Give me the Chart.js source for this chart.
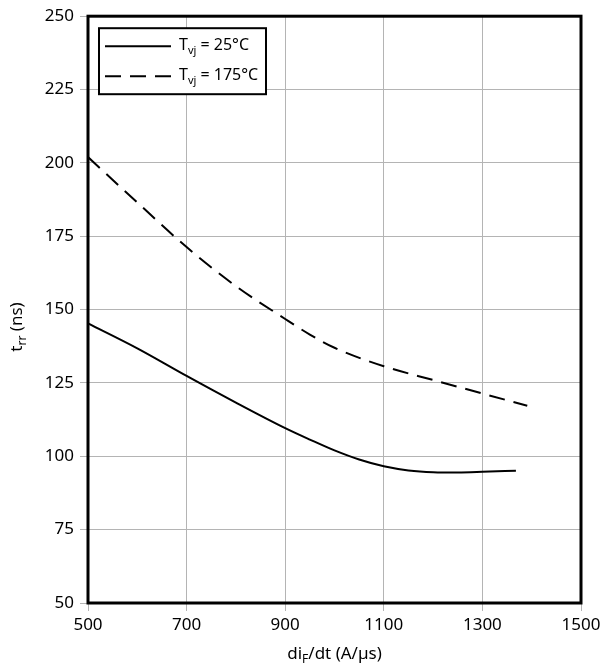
<!DOCTYPE html>
<html>
<head>
<meta charset="utf-8">
<script src="https://cdn.jsdelivr.net/npm/chart.js@4/dist/chart.umd.min.js"></script>
<style>
  html, body { margin: 0; padding: 0; background: #fff; }
  #wrap { width: 606px; height: 668px; }
</style>
</head>
<body>
<div id="wrap"><canvas id="chart" width="606" height="668"></canvas></div>
<script>
// ---- data ----
const xTicks = [500, 700, 900, 1100, 1300, 1500];
const yTicks = [50, 75, 100, 125, 150, 175, 200, 225, 250];

const x25 = [500, 600, 700, 800, 900, 950, 1000, 1050, 1100, 1150, 1200, 1250, 1300, 1368];
const t25 = [145.3, 136.8, 127.4, 118.3, 109.6, 105.7, 102.0, 98.9, 96.6, 95.2, 94.6, 94.5, 94.7, 95.1];

const x175 = [500, 600, 700, 800, 900, 950, 1000, 1100, 1200, 1300, 1391];
const t175 = [202.0, 186.5, 171.3, 158.0, 146.8, 141.5, 137.0, 130.7, 126.0, 121.4, 117.2];

const FONT = "'Noto Sans', 'Open Sans', sans-serif";

const pts = (xs, ys) => xs.map((x, i) => ({ x: x, y: ys[i] }));

// frame around plot area
const framePlugin = {
    id: "frame",
    afterDatasetsDraw(chart) {
        const a = chart.chartArea;
        const ctx = chart.ctx;
        ctx.save();
        ctx.strokeStyle = "#000";
        ctx.lineWidth = 3;
        ctx.strokeRect(a.left, a.top, a.right - a.left, a.bottom - a.top);
        ctx.restore();
    }
};

// draw text with a subscript part
function subText(ctx, x, y, base, sub, rest, size) {
    ctx.font = size + "px " + FONT;
    ctx.fillText(base, x, y);
    let w = ctx.measureText(base).width;
    ctx.font = Math.round(size * 0.7) + "px " + FONT;
    ctx.fillText(sub, x + w, y + size * 0.35);
    w += ctx.measureText(sub).width;
    ctx.font = size + "px " + FONT;
    ctx.fillText(rest, x + w, y);
}

function subWidth(ctx, base, sub, rest, size) {
    ctx.font = size + "px " + FONT;
    let w = ctx.measureText(base).width + ctx.measureText(rest).width;
    ctx.font = Math.round(size * 0.7) + "px " + FONT;
    return w + ctx.measureText(sub).width;
}

// axis titles + legend box
const labelsPlugin = {
    id: "labels",
    afterDraw(chart) {
        const a = chart.chartArea;
        const ctx = chart.ctx;
        ctx.save();
        ctx.fillStyle = "#000";
        ctx.textBaseline = "middle";
        ctx.textAlign = "left";

        // x title
        let w = subWidth(ctx, "di", "F", "/dt (A/µs)", 17);
        subText(ctx, (a.left + a.right) / 2 - w / 2, 654, "di", "F", "/dt (A/µs)", 17);

        // y title
        ctx.save();
        ctx.translate(17, 327);
        ctx.rotate(-Math.PI / 2);
        w = subWidth(ctx, "t", "rr", " (ns)", 17);
        subText(ctx, -w / 2, 0, "t", "rr", " (ns)", 17);
        ctx.restore();

        // legend
        const bx = a.left + 11, by = a.top + 12;
        ctx.fillStyle = "#fff";
        ctx.fillRect(bx, by, 167, 66);
        ctx.strokeStyle = "#000";
        ctx.lineWidth = 2;
        ctx.strokeRect(bx, by, 167, 66);
        ctx.fillStyle = "#000";
        chart.data.datasets.forEach((ds, i) => {
            const ly = by + 18 + i * 30;
            ctx.beginPath();
            ctx.setLineDash(ds.borderDash || []);
            ctx.lineWidth = 2;
            ctx.moveTo(bx + 6, ly);
            ctx.lineTo(bx + 72, ly);
            ctx.stroke();
            ctx.setLineDash([]);
            subText(ctx, bx + 80, ly - 1, "T", "vj", ds.label, 16);
        });
        ctx.restore();
    }
};

new Chart(document.getElementById("chart"), {
    type: "line",
    data: {
        datasets: [
            {
                label: " = 25°C",
                data: pts(x25, t25),
                borderColor: "#000",
                borderWidth: 2,
                pointRadius: 0,
                cubicInterpolationMode: "monotone",
                fill: false
            },
            {
                label: " = 175°C",
                data: pts(x175, t175),
                borderColor: "#000",
                borderWidth: 2,
                borderDash: [16, 9],
                pointRadius: 0,
                cubicInterpolationMode: "monotone",
                fill: false
            }
        ]
    },
    options: {
        responsive: false,
        animation: false,
        layout: { padding: { left: 0, right: 25, top: 16, bottom: 0 } },
        plugins: {
            legend: { display: false },
            tooltip: { enabled: false }
        },
        scales: {
            x: {
                type: "linear",
                min: 500,
                max: 1500,
                afterBuildTicks: s => { s.ticks = xTicks.map(v => ({ value: v })); },
                afterFit: s => { s.height = 65; },
                grid: { color: "#b4b4b4", lineWidth: 1, tickLength: 8 },
                border: { display: false },
                ticks: {
                    color: "#000",
                    font: { family: FONT, size: 17 },
                    padding: 4,
                    maxRotation: 0,
                    callback: v => String(v)
                }
            },
            y: {
                min: 50,
                max: 250,
                afterBuildTicks: s => { s.ticks = yTicks.map(v => ({ value: v })); },
                afterFit: s => { s.width = 88; },
                grid: { color: "#b4b4b4", lineWidth: 1, tickLength: 8 },
                border: { display: false },
                ticks: {
                    color: "#000",
                    font: { family: FONT, size: 17 },
                    padding: 6,
                    callback: v => String(v)
                }
            }
        }
    },
    plugins: [framePlugin, labelsPlugin]
});
</script>
</body>
</html>
